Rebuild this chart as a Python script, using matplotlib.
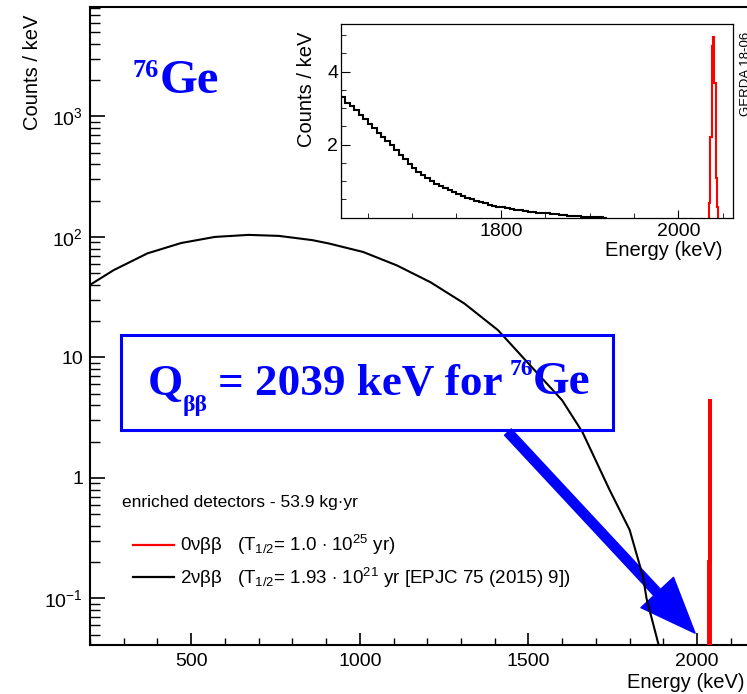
import numpy as np
import matplotlib.pyplot as plt
from matplotlib.patches import Rectangle
from matplotlib.ticker import MultipleLocator, LogLocator, NullFormatter

# main panel: 2vbb spectrum (counts / keV)
e_2nbb = [200, 270, 370, 470, 570, 670, 760, 860, 910, 1010, 1110, 1210,
          1310, 1410, 1500, 1600, 1660, 1740, 1800, 1840, 1850, 1885, 1900]
c_2nbb = [40, 53, 73, 89, 100, 104, 102, 94, 88, 75, 58, 42,
          28, 16.8, 8.9, 4.4, 2.4, 0.8, 0.37, 0.15, 0.10, 0.042, 0.02]

# main panel: 0vbb peak
edges_0nbb = [2035, 2037, 2039.5, 2042]
c_0nbb = [0.2, 4.5, 0.01]

# inset: 5 keV bins from 1620 keV
inset_edges = np.arange(1620, 1925, 5)
inset_2nbb = [3.30, 3.15, 3.05, 2.95, 2.82, 2.70, 2.58, 2.45, 2.33, 2.22,
              2.10, 1.98, 1.85, 1.72, 1.60, 1.47, 1.36, 1.26, 1.17, 1.08,
              1.00, 0.93, 0.87, 0.81, 0.76, 0.70, 0.65, 0.60, 0.55, 0.51,
              0.47, 0.43, 0.40, 0.36, 0.33, 0.30, 0.28, 0.26, 0.24, 0.22,
              0.20, 0.19, 0.17, 0.15, 0.14, 0.13, 0.12, 0.10, 0.09, 0.08,
              0.07, 0.06, 0.05, 0.04, 0.03, 0.03, 0.02, 0.02, 0.01, 0.00]
inset_edges_0nbb = [2034.5, 2036, 2037.5, 2039, 2040.5, 2042, 2043.5, 2045]
inset_0nbb = [0.4, 2.2, 4.7, 4.95, 3.7, 1.1, 0.3]

ytick_vals = [0.1, 1, 10, 100, 1000]
ytick_labels = [r'$10^{-1}$', '1', '10', r'$10^{2}$', r'$10^{3}$']

plt.rcParams['font.family'] = 'Liberation Sans'
plt.rcParams['mathtext.fontset'] = 'custom'
plt.rcParams['mathtext.rm'] = 'Liberation Sans'
plt.rcParams['mathtext.it'] = 'Liberation Sans:italic'
plt.rcParams['mathtext.bf'] = 'Liberation Sans:bold'

fig = plt.figure(figsize=(7.47, 6.94), dpi=100)
ax = fig.add_axes([0.1205, 0.0706, 0.903, 0.9193])

ax.plot(e_2nbb, c_2nbb, color='black', lw=1.5, zorder=3,
        label=r'2νββ   (T$_{1/2}$= 1.93 $\cdot$ 10$^{21}$ yr [EPJC 75 (2015) 9])')
ax.stairs(c_0nbb, edges_0nbb, baseline=1e-3, color='red', lw=2.8, zorder=3,
          label=r'0νββ   (T$_{1/2}$= 1.0 $\cdot$ 10$^{25}$ yr)')

ax.set_yscale('log')
ax.set_xlim(200, 2200)
ax.set_ylim(0.041, 8100)
ax.set_xticks([500, 1000, 1500, 2000])
ax.xaxis.set_minor_locator(MultipleLocator(100))
ax.set_yticks(ytick_vals, labels=ytick_labels)
ax.yaxis.set_minor_locator(LogLocator(subs=np.arange(2, 10)))
ax.yaxis.set_minor_formatter(NullFormatter())
ax.tick_params(which='both', direction='in', labelsize=14)
ax.tick_params(axis='y', which='major', length=10.8, width=1.2, pad=5)
ax.tick_params(axis='y', which='minor', length=7, width=1.0)
ax.tick_params(axis='x', which='major', length=9, width=1.2, pad=6)
ax.tick_params(axis='x', which='minor', length=4.8, width=1.0)
for s in ax.spines.values():
    s.set_linewidth(1.5)

ax.set_xlabel('Energy (keV)', fontsize=14.5, ha='right', va='center')
ax.xaxis.set_label_coords(0.971, -0.058)
ax.set_ylabel('Counts / keV', fontsize=14.5)
ax.yaxis.label.set(ha='right', va='center')
ax.yaxis.set_label_coords(-0.085, 0.988)

ax.text(0.0474, 0.224, 'enriched detectors - 53.9 kg·yr', transform=ax.transAxes,
        fontsize=12.5, va='center', ha='left')
h, l = ax.get_legend_handles_labels()
leg = ax.legend(h[::-1], l[::-1], loc='upper left', bbox_to_anchor=(0.0637, 0.175),
                frameon=False, fontsize=13.5, handlelength=2.2, handletextpad=0.3,
                labelspacing=0.45, borderpad=0, borderaxespad=0)
for hl in leg.legend_handles:
    hl.set_linewidth(1.6)

# arrow to Q value
ax.annotate('', xy=(1994, 0.0514), xytext=(1439, 2.4), zorder=2,
            arrowprops=dict(arrowstyle='simple,head_length=2.0,head_width=1.6,tail_width=0.33',
                            mutation_scale=20, color='blue', shrinkA=0, shrinkB=0))

serif = dict(family='Liberation Serif', weight='bold', color='blue')

# 76Ge label
ge = fig.text(160 / 747, 1 - 92.7 / 694, 'Ge', size=35, va='baseline', **serif)
ax.annotate('76', xy=(0, 0), xycoords=ge, xytext=(-1, 18.4), textcoords='offset points',
            size=19, ha='right', va='baseline', **serif)

# Q box
fig.add_artist(Rectangle((0.1616, 0.3804), 0.6594, 0.1369, transform=fig.transFigure,
                         fill=False, ec='blue', lw=2.2))
q = fig.text(148 / 747, 1 - 395 / 694, 'Q', size=32.5, va='baseline', **serif)
sub = ax.annotate('ββ', xy=(1, 0), xycoords=q, xytext=(0, -5), textcoords='offset points',
                  size=17, ha='left', va='baseline', **serif)
rest = ax.annotate('= 2039 keV for', xy=(1, 0), xycoords=(sub, q), xytext=(7, 0),
                   textcoords='offset points', size=32.5, ha='left', va='bottom', **serif)
sup = ax.annotate('76', xy=(1, 0), xycoords=rest, xytext=(5, 21), textcoords='offset points',
                  size=17, ha='left', va='baseline', **serif)
ax.annotate('Ge', xy=(1, 0), xycoords=(sup, rest), xytext=(0, 0), textcoords='offset points',
            size=34, ha='left', va='bottom', **serif)

# inset
axi = fig.add_axes([0.4565, 0.6863, 0.5243, 0.2787])
axi.stairs(inset_2nbb, inset_edges, color='black', lw=1.5)
axi.stairs(inset_0nbb, inset_edges_0nbb, baseline=0, color='red', lw=1.5)
axi.set_xlim(1620, 2061)
axi.set_ylim(0, 5.3)
axi.set_xticks([1800, 2000])
axi.xaxis.set_minor_locator(MultipleLocator(50))
axi.set_yticks([2, 4])
axi.yaxis.set_minor_locator(MultipleLocator(0.5))
axi.tick_params(which='both', direction='in', labelsize=14)
axi.tick_params(axis='y', which='major', length=6.5, pad=2)
axi.tick_params(axis='y', which='minor', length=3.6)
axi.tick_params(axis='x', which='major', length=5.5, pad=3.6)
axi.tick_params(axis='x', which='minor', length=3.6)
for s in axi.spines.values():
    s.set_linewidth(0.9)
axi.set_xlabel('Energy (keV)', fontsize=14.5, ha='right', va='center')
axi.xaxis.set_label_coords(0.975, -0.167)
axi.set_ylabel('Counts / keV', fontsize=14.5)
axi.yaxis.label.set(ha='right', va='center')
axi.yaxis.set_label_coords(-0.089, 0.96)

fig.text(749 / 747, 1 - 32 / 694, 'GERDA 18-06', rotation=90, rotation_mode='anchor',
         ha='right', va='baseline', fontsize=9.5)

fig.savefig('out.png', dpi=100)
